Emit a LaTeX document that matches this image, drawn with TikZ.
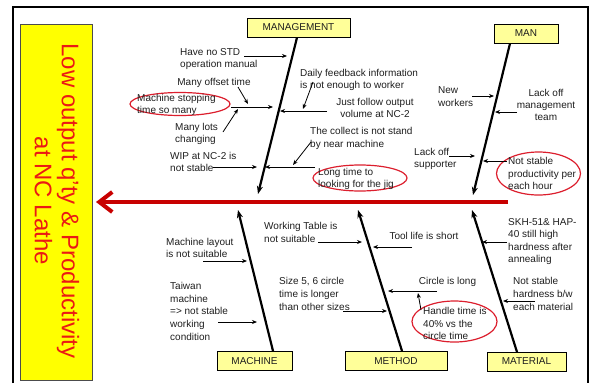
\documentclass[tikz,border=0pt]{standalone}
\usepackage{fontspec}
\setmainfont{Liberation Sans}
\usetikzlibrary{arrows.meta,shapes.geometric}
\definecolor{spinered}{RGB}{200,0,0}
\definecolor{titlered}{RGB}{235,25,20}
\definecolor{ovalred}{RGB}{220,30,45}
\definecolor{catfill}{RGB}{255,255,153}
\definecolor{titlefill}{RGB}{255,255,0}
\definecolor{ink}{RGB}{30,30,30}

\begin{document}
% multi-line labels are placed by the baseline of their last line
\begin{tikzpicture}[x=1pt,y=-1pt,
  lbl/.style={font=\fontsize{10}{12}\selectfont, inner sep=0pt, text=ink, align=left, anchor=base west},
  lblc/.style={lbl, align=center, anchor=base},
  cat/.style={draw=black, line width=0.8pt, fill=catfill, text=ink,
    font=\fontsize{10}{12}\selectfont, inner sep=0pt, minimum height=19pt},
  bone/.style={line width=2.2pt, -{Stealth[length=8pt,width=6pt]}},
  cause/.style={line width=0.8pt, -{Stealth[length=5pt,width=4pt]}},
  oval/.style={draw=ovalred, line width=1.2pt, ellipse, inner sep=0pt},
  spine/.style={spinered, line width=4pt, -{Straight Barb[length=13pt,width=20pt]}},
]
\useasboundingbox (0,0) rectangle (591,383);

% outer frame
\draw[line width=1.5pt] (13,383) -- (13,7) -- (588,7) -- (588,383);

% effect box
\node[draw=black!70, fill=titlefill, line width=0.8pt, inner sep=0pt,
      minimum width=72pt, minimum height=356pt] (title) at (56,202) {};
\node[rotate=-90, text=titlered, font=\fontsize{24}{27}\selectfont, align=center, inner sep=0pt]
  (titletext) at (57,201) {Low output q’ty \& Productivity\\at NC Lathe};

% spine
\coordinate (spineTail) at (508,202);
\coordinate (spineHead) at (96,202);
\draw[spine] (spineTail) -- (spineHead);

% category boxes
\node[cat, minimum width=103pt] (mg) at (298.5,27.5) {MANAGEMENT};
\node[cat, minimum width=64pt]  (man) at (526,33.5) {MAN};
\node[cat, minimum width=75pt]  (mc) at (254.5,361) {MACHINE};
\node[cat, minimum width=102pt] (me) at (396,361) {METHOD};
\node[cat, minimum width=79pt]  (ma) at (526.5,361.5) {MATERIAL};

% main bones
\coordinate (mgRoot) at (297,37.5);  \coordinate (mgTip) at (258,194);
\coordinate (manRoot) at (510,43.5); \coordinate (manTip) at (473,195);
\coordinate (mcRoot) at (273,351);   \coordinate (mcTip) at (238,210);
\coordinate (meRoot) at (402,351);   \coordinate (meTip) at (358,210);
\coordinate (maRoot) at (517,352);   \coordinate (maTip) at (472,210);
\draw[bone] (mgRoot) -- (mgTip);
\draw[bone] (manRoot) -- (manTip);
\draw[bone] (mcRoot) -- (mcTip);
\draw[bone] (meRoot) -- (meTip);
\draw[bone] (maRoot) -- (maTip);

% ---------------- MANAGEMENT causes
\node[lbl] (t1) at (180,67.5) {Have no STD\\operation manual};
\node[lblc] (t2) at (214,85.5) {Many offset time};
\node[oval, minimum width=100pt, minimum height=23pt] (o1) at (180,104) {};
\node[lbl] (t3) at (137,113.5) {Machine stopping\\time so many};
\node[lbl, font=\fontsize{10}{11.5}\selectfont] (t4) at (175,142) {Many lots\\changing};
\node[lbl, font=\fontsize{10}{12}\selectfont] (t5) at (170,171.5) {WIP at NC-2 is\\not stable};
\node[lbl, font=\fontsize{10}{11.5}\selectfont] (t6) at (300,88) {Daily feedback information\\is not enough to worker};
\node[lblc, font=\fontsize{10}{11.5}\selectfont] (t7) at (375,117) {Just follow output\\volume at NC-2};
\node[lbl, font=\fontsize{10}{13}\selectfont] (t8) at (310,147.5) {The collect is not stand\\by near machine};
\node[oval, minimum width=94pt, minimum height=26pt] (o2) at (360,178) {};
\node[lbl, font=\fontsize{10}{11.5}\selectfont] (t9) at (318,187) {Long time to\\looking for the jig};

\coordinate (a1s) at (244,56);  \coordinate (a1e) at (287,56);
\coordinate (a2s) at (238,87);  \coordinate (a2e) at (248,104);
\coordinate (b1s) at (231,107); \coordinate (b1e) at (273,107);
\coordinate (a3s) at (223,132); \coordinate (a3e) at (238,109);
\coordinate (a4s) at (213,167); \coordinate (a4e) at (257,167);
\coordinate (b2s) at (327,111); \coordinate (b2e) at (280,111);
\coordinate (a5s) at (313,82);  \coordinate (a5e) at (303,109);
\coordinate (b3s) at (315,167); \coordinate (b3e) at (265,167);
\coordinate (a6s) at (311,142); \coordinate (a6e) at (293,165);
\foreach \c in {a1,a2,b1,a3,a4,b2,a5,b3,a6} \draw[cause] (\c s) -- (\c e);

% ---------------- MAN causes
\node[lbl, font=\fontsize{10}{12.5}\selectfont] (t10) at (438,106) {New\\workers};
\node[lblc] (t11) at (546,120.5) {Lack off\\management\\team};
\node[lbl] (t12) at (414,167.5) {Lack off\\supporter};
\node[oval, minimum width=84pt, minimum height=43pt] (o3) at (538.5,173.5) {};
\node[lbl, font=\fontsize{10}{12.5}\selectfont] (t13) at (508,189.5) {Not stable\\productivity per\\each hour};

\coordinate (m1s) at (472,96);  \coordinate (m1e) at (494,96);
\coordinate (m2s) at (517,112); \coordinate (m2e) at (495,112);
\coordinate (m3s) at (449,156); \coordinate (m3e) at (475,156);
\coordinate (m4s) at (507,161); \coordinate (m4e) at (483,161);
\foreach \c in {m1,m2,m3,m4} \draw[cause] (\c s) -- (\c e);

% ---------------- MACHINE causes
\node[lbl] (t14) at (166,257) {Machine layout\\is not suitable};
\node[lbl, font=\fontsize{10}{12.7}\selectfont] (t15) at (170,340.3) {Taiwan\\machine\\=> not stable\\working\\condition};
\coordinate (k1s) at (203,261); \coordinate (k1e) at (247,261);
\coordinate (k2s) at (218,322); \coordinate (k2e) at (257,322);
\foreach \c in {k1,k2} \draw[cause] (\c s) -- (\c e);

% ---------------- METHOD causes
\node[lbl, font=\fontsize{10}{12.5}\selectfont] (t16) at (264,242) {Working Table is\\not suitable};
\node[lblc] (t17) at (424,239.5) {Tool life is short};
\node[lbl, font=\fontsize{10}{13}\selectfont] (t18) at (279,310.5) {Size 5, 6 circle\\time is longer\\than other sizes};
\node[lblc] (t19) at (447.5,284.5) {Circle is long};
\node[oval, minimum width=85pt, minimum height=41pt] (o4) at (454.5,321.5) {};
\node[lbl, font=\fontsize{10}{12.5}\selectfont] (t20) at (423,339.5) {Handle time is\\40\% vs the\\circle time};
\coordinate (h1s) at (318,242); \coordinate (h1e) at (362,242);
\coordinate (h2s) at (412,247); \coordinate (h2e) at (373,247);
\coordinate (h3s) at (343,311); \coordinate (h3e) at (387,311);
\coordinate (h4s) at (437,291); \coordinate (h4e) at (388,291);
\coordinate (h5s) at (421,310); \coordinate (h5e) at (418,293);
\foreach \c in {h1,h2,h3,h4,h5} \draw[cause] (\c s) -- (\c e);

% ---------------- MATERIAL causes
\node[lbl, font=\fontsize{10}{12.4}\selectfont] (t21) at (508,262.7) {SKH-51\& HAP-\\40 still high\\hardness after\\annealing};
\node[lbl, font=\fontsize{10}{13}\selectfont] (t22) at (513,310.5) {Not stable\\hardness b/w\\each material};
\coordinate (r1s) at (507,242); \coordinate (r1e) at (482,242);
\coordinate (r2s) at (535,301); \coordinate (r2e) at (503,301);
\foreach \c in {r1,r2} \draw[cause] (\c s) -- (\c e);

\end{tikzpicture}
\end{document}
